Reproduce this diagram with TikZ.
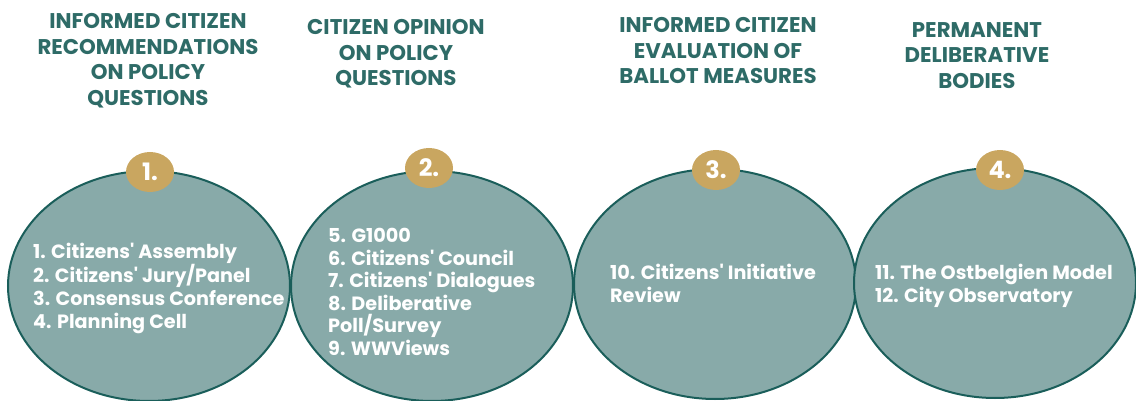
\documentclass[tikz,border=0pt]{standalone}
\usepackage{fontspec}
\setmainfont{Poppins}[Ligatures=TeXOff]
\usetikzlibrary{shapes.geometric}
\definecolor{fillteal}{HTML}{88AAA9}
\definecolor{edgeteal}{HTML}{1A5E5A}
\definecolor{titleteal}{HTML}{2E6B67}
\definecolor{gold}{HTML}{C9A660}
\tikzset{
  bigoval/.style={ellipse, fill=fillteal, draw=edgeteal, line width=2pt, minimum width=282pt, minimum height=230pt, inner sep=0pt},
  badge/.style={ellipse, fill=gold, minimum width=48pt, minimum height=40pt, inner sep=0pt, text=white, font=\bfseries\fontsize{24}{24}\selectfont},
  title/.style={align=center, text=titleteal, font=\bfseries\fontsize{21.3}{25.8}\selectfont, inner sep=0pt, anchor=north},
  items/.style={align=left, text=white, font=\bfseries\fontsize{19.2}{22.6}\selectfont, inner sep=0pt, anchor=north west}
}
\begin{document}
\begin{tikzpicture}[x=1pt,y=-1pt]
\useasboundingbox (0,0) rectangle (1136,401);
\node[bigoval] (o1) at (149,286) {};
\node[bigoval] (o2) at (432,286) {};
\node[bigoval] (o3) at (715,284) {};
\node[bigoval] (o4) at (995,283) {};
\node[badge] (b1) at (150,172) {1.};
\node[badge] (b2) at (429,168) {2.};
\node[badge] (b3) at (716,170) {3.};
\node[badge] (b4) at (1000,170) {4.};
\node[title] (t1) at (148,13) {INFORMED CITIZEN\\RECOMMENDATIONS\\ON POLICY\\QUESTIONS};
\node[title] (t2) at (396,19) {CITIZEN OPINION\\ON POLICY\\QUESTIONS};
\node[title] (t3) at (718,17) {INFORMED CITIZEN\\EVALUATION OF\\BALLOT MEASURES};
\node[title] (t4) at (977,22) {PERMANENT\\DELIBERATIVE\\BODIES};
\node[items] (i1) at (33,243) {1. Citizens' Assembly\\2. Citizens' Jury/Panel\\3. Consensus Conference\\4. Planning Cell};
\node[items] (i2) at (328,228) {5. G1000\\6. Citizens' Council\\7. Citizens' Dialogues\\8. Deliberative\\Poll/Survey\\9. WWViews};
\node[items] (i3) at (610,264) {10. Citizens' Initiative\\Review};
\node[items] (i4) at (875,264) {11. The Ostbelgien Model\\12. City Observatory};
\end{tikzpicture}
\end{document}
